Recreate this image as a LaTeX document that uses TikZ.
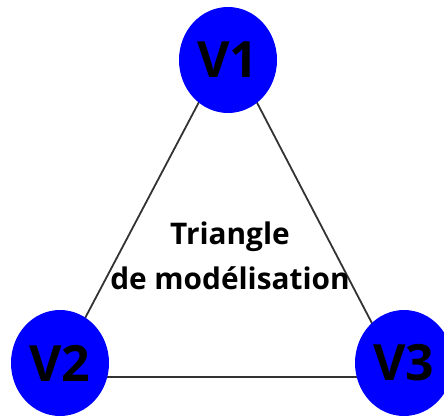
\documentclass[tikz,border=0pt]{standalone}
\usepackage{fontspec}
\setmainfont{Open Sans}
\usetikzlibrary{calc,shapes.geometric}
\pgfdeclarelayer{background}
\pgfsetlayers{background,main}
\begin{document}
\begin{tikzpicture}[x=1pt,y=1pt,
  vertexnode/.style={fill=blue, draw=none, ellipse, minimum width=98pt, minimum height=106pt,
    inner sep=0pt, font=\fontsize{50}{50}\selectfont\bfseries, text=black},
  edgeline/.style={draw=black!80, line width=1.8pt},
  caption/.style={align=center, font=\fontsize{29.8}{45}\selectfont\bfseries}]
\useasboundingbox (0,0) rectangle (444,416);
% vertices of the triangle
\node[vertexnode] (V1) at (228,356) {V1};
\node[vertexnode] (V2) at (60,53) {V2};
\node[vertexnode] (V3) at (404,53) {V3};
% corners of the triangle sides, hidden under the vertex discs
\coordinate (c1) at ($(V1)+(0,13)$);
\coordinate (c2) at ($(V2)+(-6,-14)$);
\coordinate (c3) at ($(V3)+(-4,-14)$);
\begin{pgfonlayer}{background}
  \draw[edgeline] (c1) -- (c2) -- (c3) -- cycle;
\end{pgfonlayer}
\node[caption] (title) at (230,160) {Triangle\\de modélisation};
\end{tikzpicture}
\end{document}
